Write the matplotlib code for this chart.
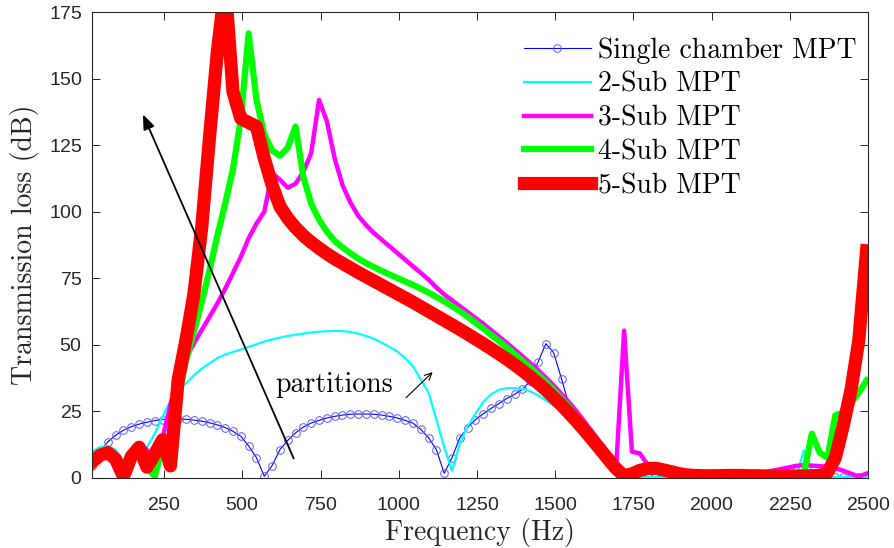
import numpy as np
import matplotlib
matplotlib.use("Agg")
import matplotlib.pyplot as plt

plt.rcParams.update({
    "axes.formatter.use_mathtext": True,
    "xtick.direction": "in",
    "ytick.direction": "in",
    "xtick.top": True,
    "ytick.right": True,
})

AX_GRAY = "#262626"
SERIF = "cmr10"
SANS = "Liberation Sans"

# sample frequencies (Hz), 25 Hz step
freq = np.arange(20, 2501, 25)

tl_single = [
    4.5, 10.0, 13.5, 16.0, 17.9, 19.2, 20.2, 20.9, 21.5, 21.9,
    22.1, 22.1, 22.0, 21.7, 21.3, 20.7, 19.9, 18.9, 17.5, 15.6,
    12.0, 7.6, 0.6, 4.6, 10.6, 14.1, 16.9, 19.1, 20.6, 21.6,
    22.5, 23.1, 23.6, 23.9, 24.0, 24.0, 23.9, 23.6, 23.1, 22.5,
    21.6, 20.6, 18.2, 15.1, 10.6, 1.7, 7.6, 15.1, 18.9, 21.9,
    24.1, 26.1, 27.9, 29.8, 31.4, 33.2, 36.4, 43.5, 50.4, 47.0,
    37.2, 27.0, 23.0, 19.0, 15.5, 11.5, 7.5, 3.5, 0.5, 0.8,
    0.5, 0.4, 0.4, 0.3, 0.3, 0.3, 0.3, 0.3, 0.3, 0.3,
    0.3, 0.3, 0.3, 0.3, 0.3, 0.4, 0.5, 0.6, 0.8, 1.2,
    2.5, 1.2, 0.6, 0.4, 0.3, 0.3, 0.3, 0.3, 0.3, 0.3,
]

tl_sub2 = [
    10.0, 11.5, 12.0, 10.5, 6.0, 5.0, 8.0, 11.6, 16.6, 23.0,
    29.0, 33.0, 35.5, 38.5, 41.0, 43.0, 45.0, 46.3, 47.3, 48.2,
    49.2, 50.2, 51.2, 52.0, 52.7, 53.3, 53.8, 54.2, 54.6, 54.9,
    55.1, 55.2, 55.1, 54.8, 54.2, 53.3, 52.3, 50.8, 49.2, 47.5,
    45.0, 42.0, 37.0, 32.0, 22.0, 11.6, 2.6, 12.9, 19.4, 24.1,
    28.5, 31.4, 33.1, 33.7, 33.7, 33.4, 32.5, 31.0, 29.1, 27.2,
    25.3, 23.5, 21.0, 17.5, 14.0, 10.0, 6.5, 3.0, 0.5, 0.4,
    0.3, 0.3, 0.3, 0.3, 0.3, 0.3, 0.3, 0.3, 0.3, 0.3,
    0.3, 0.3, 0.3, 0.3, 0.3, 0.3, 0.3, 0.4, 0.4, 0.5,
    0.6, 10.4, 2.5, 0.5, 0.4, 0.3, 0.3, 0.3, 0.3, 0.3,
]

tl_sub3 = [
    6.0, 9.0, 10.0, 9.0, 3.5, 8.5, 13.0, 10.5, 6.0, 15.0,
    27.5, 38.0, 45.0, 50.5, 55.5, 60.5, 65.5, 71.0, 77.0, 83.0,
    90.0, 95.5, 100.0, 114.5, 112.0, 109.0, 110.5, 115.0, 122.0, 142.0,
    134.0, 120.0, 110.0, 103.5, 98.5, 95.0, 92.0, 89.5, 87.0, 84.5,
    82.0, 79.5, 77.0, 74.5, 71.5, 68.9, 66.7, 64.5, 62.3, 60.1,
    57.9, 55.5, 53.1, 50.7, 48.2, 45.7, 43.1, 40.5, 37.7, 34.7,
    31.5, 28.2, 24.7, 20.9, 17.0, 13.0, 8.9, 4.7, 55.3, 9.8,
    9.2, 5.0, 3.8, 3.0, 2.2, 1.4, 0.9, 0.7, 0.6, 0.5,
    0.5, 0.6, 0.7, 0.9, 1.2, 1.6, 2.1, 2.7, 3.3, 3.9,
    4.5, 4.8, 4.6, 4.4, 4.2, 3.6, 2.7, 1.6, 0.5, 1.6,
]

tl_sub4 = [
    6.0, 8.5, 9.5, 7.0, 1.0, 7.5, 11.5, 4.0, 0.5, 12.0,
    10.0, 30.0, 44.0, 55.0, 66.0, 78.0, 91.0, 103.0, 116.0, 135.0,
    167.0, 142.0, 129.0, 123.0, 121.0, 124.0, 132.0, 113.0, 103.0, 97.0,
    92.5, 89.0, 86.6, 84.4, 82.4, 80.7, 79.2, 77.8, 76.4, 75.1,
    73.8, 72.5, 71.1, 69.6, 68.0, 66.3, 64.5, 62.6, 60.5, 58.3,
    56.1, 53.7, 51.4, 49.0, 46.5, 44.0, 41.4, 38.8, 36.0, 33.0,
    29.8, 26.5, 23.0, 19.3, 15.5, 11.6, 7.7, 3.9, 0.8, 1.2,
    2.2, 2.8, 2.9, 2.4, 1.8, 1.2, 0.9, 0.8, 0.7, 0.7,
    0.7, 0.8, 0.8, 0.8, 0.7, 0.7, 0.6, 0.6, 0.6, 0.6,
    0.5, 2.0, 16.6, 9.5, 7.5, 23.5, 24.5, 28.0, 32.0, 36.6,
]

tl_sub5 = [
    6.0, 8.5, 9.5, 7.0, 0.5, 8.0, 11.5, 4.0, 9.0, 14.3,
    4.5, 37.0, 52.0, 69.0, 94.0, 128.0, 160.0, 185.0, 145.0, 135.0,
    133.5, 132.0, 120.0, 110.0, 102.0, 97.5, 94.0, 91.0, 88.5, 86.3,
    84.2, 82.3, 80.6, 78.9, 77.2, 75.6, 74.0, 72.4, 70.8, 69.2,
    67.6, 66.0, 64.3, 62.6, 60.9, 59.2, 57.5, 55.8, 54.0, 52.2,
    50.4, 48.5, 46.6, 44.6, 42.5, 40.3, 38.0, 35.6, 33.0, 30.2,
    27.3, 24.2, 21.0, 17.6, 14.1, 10.5, 6.9, 3.4, 0.8, 1.5,
    2.8, 3.5, 3.6, 3.0, 2.3, 1.6, 1.1, 0.9, 0.8, 0.8,
    0.8, 0.9, 0.9, 0.9, 0.8, 0.8, 0.7, 0.7, 0.7, 0.7,
    0.7, 0.7, 0.8, 0.9, 2.0, 7.5, 19.4, 32.9, 51.6, 85.3,
]

fig = plt.figure(figsize=(8.95, 5.48), dpi=100)
ax = fig.add_axes([0.103, 0.128, 0.867, 0.850])

ax.plot(freq, tl_single, color="#0000ff", lw=0.8, marker="o", ms=5.5,
        mfc="none", mec="#5a5aff", mew=0.7, label="Single chamber MPT")
ax.plot(freq, tl_sub2, color="#00ffff", lw=1.6, label="2-Sub MPT")
ax.plot(freq, tl_sub3, color="#ff00ff", lw=3.2, label="3-Sub MPT")
ax.plot(freq, tl_sub4, color="#00ff00", lw=4.5, label="4-Sub MPT")
ax.plot(freq, tl_sub5, color="#ff0000", lw=9.5, label="5-Sub MPT")

ax.set_xlim(20, 2500)
ax.set_ylim(0, 175)
ax.set_xticks(np.arange(250, 2501, 250))
ax.set_yticks(np.arange(0, 176, 25))
for sp in ax.spines.values():
    sp.set_color(AX_GRAY)
    sp.set_linewidth(0.8)
ax.tick_params(axis="both", colors=AX_GRAY, length=6, width=0.7,
               labelsize=14)
ax.tick_params(axis="x", pad=14)
ax.tick_params(axis="y", pad=7)
for lab in ax.get_xticklabels() + ax.get_yticklabels():
    lab.set_fontfamily(SANS)

ax.set_xlabel("Frequency (Hz)", fontfamily=SERIF, fontsize=20, color=AX_GRAY)
ax.set_ylabel("Transmission loss (dB)", fontfamily=SERIF, fontsize=20,
              color=AX_GRAY)
ax.xaxis.set_label_coords(0.5, -0.087)
ax.yaxis.set_label_coords(-0.068, 0.5)

# trend arrow across the peaks
ax.annotate("", xy=(182, 136.6), xytext=(664, 7.3),
            arrowprops=dict(arrowstyle="-|>,head_length=0.9,head_width=0.35",
                            color="black", lw=1.3, shrinkA=0, shrinkB=0))
ax.text(604, 32.2, "partitions", fontfamily=SERIF, fontsize=20,
        ha="left", va="baseline")
ax.annotate("", xy=(1108, 39.7), xytext=(1023, 30.1),
            arrowprops=dict(arrowstyle="->,head_length=0.5,head_width=0.25",
                            color="black", lw=0.8, shrinkA=0, shrinkB=0))

ax.legend(loc="upper left", bbox_to_anchor=(0.5567, 0.946), frameon=False,
          prop={"family": SERIF, "size": 20}, handlelength=2.4,
          handletextpad=0.25, labelspacing=0.27, borderpad=0,
          borderaxespad=0)

fig.savefig("out.png", dpi=100)
